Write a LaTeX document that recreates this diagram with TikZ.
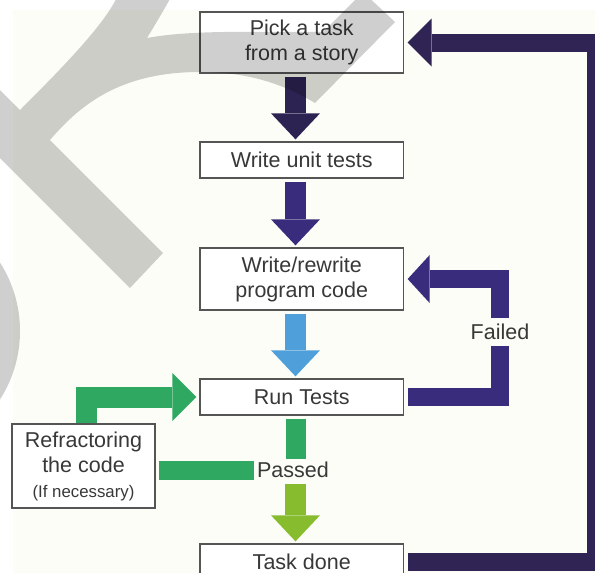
\documentclass[tikz,border=0pt]{standalone}
\usepackage{fontspec}
\setmainfont{Liberation Sans}
\usetikzlibrary{arrows.meta,calc}
\definecolor{bg}{HTML}{FDFDF7}
\definecolor{boxline}{HTML}{555555}
\definecolor{txt}{HTML}{383838}
\definecolor{purpA}{HTML}{2D2352}
\definecolor{purpB}{HTML}{3A2C7C}
\definecolor{purpC}{HTML}{2F2454}
\definecolor{skyb}{HTML}{4FA0DA}
\definecolor{grn}{HTML}{2FA862}
\definecolor{lime}{HTML}{86BC2E}
\tikzset{
  box/.style={draw=boxline, line width=1.3pt, fill=white, inner sep=0pt,
    minimum width=203.5pt, text=txt, align=center,
    font=\fontsize{21.5}{25}\selectfont},
  lbl/.style={text=txt, font=\fontsize{21.5}{25}\selectfont},
  vshaft/.style={line width=21pt, shorten <=3pt, shorten >=2pt,
    -{Triangle[length=26pt,width=49pt,line width=0pt]}},
  gbar/.style={line width=20pt, draw=grn},
  loopline/.style={line width=18pt, line join=miter, shorten <=3.5pt, shorten >=3.5pt,
    -{Triangle[length=22pt,width=48pt,line width=0pt]}}
}
\begin{document}
\begin{tikzpicture}[x=1pt,y=-1pt]
\useasboundingbox (0,0) rectangle (595,573);
\fill[white] (0,0) rectangle (595,573);
\fill[bg] (13,10) rectangle (595,573);

\coordinate (ax) at (295.5,0);
\coordinate (gx) at (86.5,0);
\coordinate (fc) at (499.5,279);
\coordinate (bc) at (596,42.5);

% nodes
\node[box, minimum height=61pt] (pick) at (301.75,42.5) {Pick a task\\from a story};
\node[box, minimum height=36pt] (unit) at (301.75,160) {Write unit tests};
\node[box, minimum height=62pt] (code) at (301.75,279) {Write/rewrite\\program code};
\node[box, minimum height=36pt] (run) at (301.75,397) {Run Tests};
\node[box, minimum height=36pt] (done) at (301.75,562) {Task done};
\node[box, minimum width=143pt, minimum height=84pt] (ref) at (83.5,466)
  {Refractoring\\the code\\{\fontsize{16.8}{25}\selectfont (If necessary)}};
\node[lbl, inner sep=3pt] (passed) at (293,470) {Passed};

% connectors
\draw[vshaft, draw=purpA] (pick.south -| ax) -- (unit.north -| ax);
\draw[vshaft, draw=purpB] (unit.south -| ax) -- (code.north -| ax);
\draw[vshaft, draw=skyb] (code.south -| ax) -- (run.north -| ax);
\draw[gbar, line width=20pt, shorten <=3pt] (run.south -| ax) -- (passed.north -| ax);
\draw[gbar, line width=19pt, shorten >=3pt] (passed.west) -- (passed.west -| ref.east);
\draw[vshaft, draw=lime] (passed.south -| ax) -- (done.north -| ax);
\draw[line width=21pt, draw=grn, line join=miter, shorten >=3pt,
  -{Triangle[length=24pt,width=48pt,line width=0pt]}] (ref.north -| gx) |- (run.west);
\draw[loopline, draw=purpB] (run.east) -| (fc) -- (code.east);
\node[lbl, fill=bg, inner sep=6pt] (failed) at (500,332) {Failed};
\draw[loopline, line width=18pt, draw=purpC,
  -{Triangle[length=24pt,width=48pt,line width=0pt]}] (done.east) -| (bc) -- (pick.east);

% watermark
\begin{scope}[transparency group, opacity=0.19]
\clip (0,0) rectangle (595,573);
\fill[black] (-10,80) -- (163,253) -- (130,288) -- (-10,148) -- cycle;
\fill[black] (120,-10) .. controls (110,20) and (60,70) .. (15,115) -- (45,145) -- (50,140)
  .. controls (80,105) and (120,72) .. (200,72)
  .. controls (250,72) and (285,85) .. (315,103)
  -- (395,22) -- (363,-8) -- (323,32)
  .. controls (250,32) and (190,30) .. (147,38)
  .. controls (155,25) and (165,8) .. (175,-10) -- cycle;
\fill[black] (-107,331) circle (127);
\end{scope}
\end{tikzpicture}
\end{document}
